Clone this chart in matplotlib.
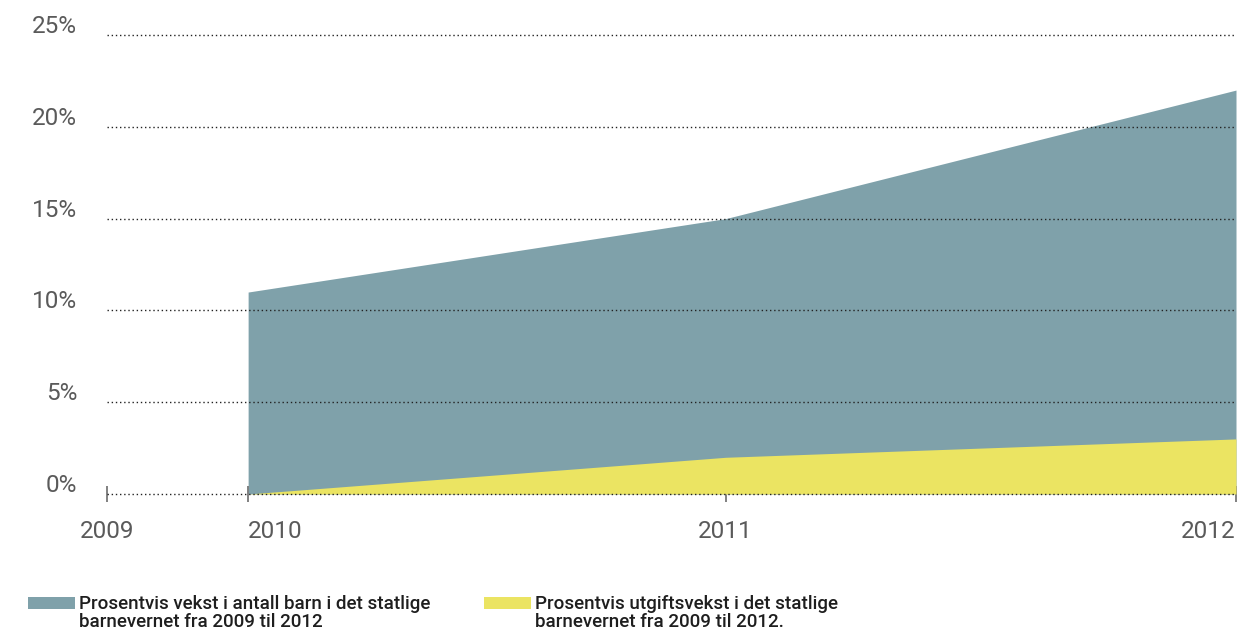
import matplotlib
matplotlib.use("Agg")
import matplotlib.pyplot as plt
import matplotlib.transforms as mtransforms
from matplotlib.patches import Rectangle

# data
years = ["2009", "2010", "2011", "2012"]
# horizontal position of each year on the axis (the source spaces them unevenly)
year_pos = [0.0, 0.125, 0.548, 1.0]
area_years = [1, 2, 3]  # indices into years for the filled areas
barn_vekst = [11, 15, 22]      # % growth in number of children
utgift_vekst = [0, 2, 3]       # % growth in expenses
y_ticks = [0, 5, 10, 15, 20, 25]

legend_labels = [
    "Prosentvis vekst i antall barn i det statlige\nbarnevernet fra 2009 til 2012",
    "Prosentvis utgiftsvekst i det statlige\nbarnevernet fra 2009 til 2012.",
]

blue = "#7fa1aa"
yellow = "#ebe462"
tick_grey = "#5a5a5a"

plt.rcParams['font.family'] = ['Roboto', 'DejaVu Sans']

W, H = 1243, 632
fig = plt.figure(figsize=(W / 100, H / 100), dpi=100)
ax = fig.add_axes([107 / W, 1 - 494 / H, (1236 - 107) / W, (494 - 35) / H])

xs = [year_pos[i] for i in area_years]
ax.fill_between(xs, 0, barn_vekst, color=blue, lw=0, zorder=1)
ax.fill_between(xs, 0, utgift_vekst, color=yellow, lw=0, zorder=2)

ax.set_xlim(year_pos[0], year_pos[-1])
ax.set_ylim(0, 25)

# dotted gridlines on top of the blue area
for v in y_ticks:
    ax.axhline(v, color="#222222", lw=1.0, ls=(0, (1, 2)), zorder=3, clip_on=False)

for s in ax.spines.values():
    s.set_visible(False)

ax.set_yticks(y_ticks)
ax.set_yticklabels([f"{v}%" for v in y_ticks])
ax.tick_params(axis="y", length=0, pad=21.5, labelsize=17.5, labelcolor=tick_grey)
shift = mtransforms.ScaledTranslation(0, 11 / 100, fig.dpi_scale_trans)
for lab in ax.get_yticklabels():
    lab.set_transform(lab.get_transform() + shift)

ax.set_xticks(year_pos)
ax.set_xticklabels(years)
ax.tick_params(axis="x", direction="inout", length=12, width=1.3, color="#777777",
               pad=12.5, labelsize=17.5, labelcolor=tick_grey)
aligns = ["center", "left", "center", "right"]
for lab, a in zip(ax.get_xticklabels(), aligns):
    lab.set_horizontalalignment(a)

# legend drawn by hand below the plot
legend_items = [(28, blue), (484, yellow)]
for (x0, c), txt in zip(legend_items, legend_labels):
    fig.patches.append(Rectangle((x0 / W, 1 - 609 / H), 47 / W, 12 / H,
                                 transform=fig.transFigure, color=c, lw=0))
    fig.text((x0 + 51) / W, 1 - 595 / H, txt, ha="left", va="top",
             fontsize=13.5, fontweight="medium", color="#1e1e1e", linespacing=1.0)

fig.savefig("out.png", dpi=100)
